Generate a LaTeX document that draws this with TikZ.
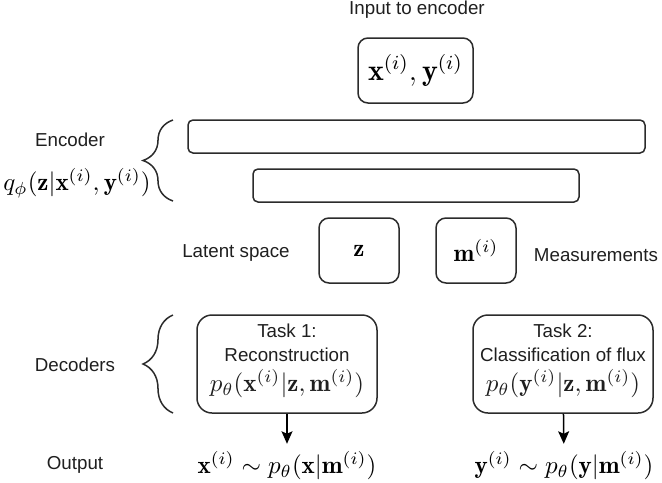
\documentclass[tikz,border=0pt]{standalone}
\usepackage{fontspec}
\usepackage{amsmath}
\usetikzlibrary{arrows.meta, positioning, decorations.pathreplacing}
\newfontfamily\diagfont{Liberation Sans}
\definecolor{vaeLine}{HTML}{2B2B2B}
\definecolor{vaeText}{HTML}{1F1F1F}
% one pixel of the sketch
\newcommand{\pxl}{0.4pt}
\tikzset{
  lbl/.style={font=\diagfont\fontsize{7.5}{9.6}\selectfont, text=vaeText, align=center, inner sep=1pt},
  mathlbl/.style={inner sep=3pt, text=black},
  inbox/.style={rectangle, rounded corners=4pt, draw=vaeLine, line width=0.6pt,
                minimum width=115*\pxl, minimum height=65*\pxl, inner sep=0pt},
  layer/.style={rectangle, rounded corners=2pt, draw=vaeLine, line width=0.6pt,
                minimum height=33*\pxl, inner sep=0pt},
  varbox/.style={rectangle, rounded corners=4pt, draw=vaeLine, line width=0.6pt,
                 minimum width=80*\pxl, minimum height=65*\pxl, inner sep=0pt},
  taskbox/.style={rectangle, rounded corners=6pt, draw=vaeLine, line width=0.6pt,
                  minimum width=180*\pxl, minimum height=98*\pxl, inner sep=0pt,
                  align=center, text=vaeText, font=\diagfont\fontsize{7.5}{9.6}\selectfont},
  bracket/.style={draw=vaeLine, line width=0.6pt, decorate,
                  decoration={brace, amplitude=12pt}},
  arrowK/.style={-{Stealth[length=5pt, width=4.4pt, inset=1pt]}, draw=black, line width=0.6pt},
}
\newcommand{\lowstrut}{\rule[-4.9pt]{0pt}{4.9pt}}

\begin{document}
\begin{tikzpicture}[x=\pxl, y=-\pxl]
  \useasboundingbox (0,0) rectangle (662,482);

  % input
  \node[lbl] (inTitle) at (417,10) {Input to encoder};
  \node[inbox] (xy) at (415.5,70.5) {\large$\mathbf{x}^{(i)},\mathbf{y}^{(i)}$};

  % encoder
  \node[layer, minimum width=457*\pxl] (enc1) at (416.5,136.5) {};
  \node[layer, minimum width=326*\pxl] (enc2) at (416,185.5) {};
  \node[lbl] (encName) at (70,140) {Encoder};
  \node[mathlbl] (encDist) at (77,183) {$q_\phi(\mathbf{z}|\mathbf{x}^{(i)},\mathbf{y}^{(i)})$};
  \coordinate (encTop) at (173,120);
  \coordinate (encBot) at (173,201);
  \draw[bracket] (encBot) -- (encTop);

  % latent space
  \node[lbl] (latName) at (236,253) {Latent space};
  \node[varbox] (z) at (359,250.5) {$\mathbf{z}$};
  \node[varbox] (m) at (476,250.5) {$\mathbf{m}^{(i)}$};
  \node[lbl] (measName) at (596,255) {Measurements};

  % decoders
  \node[lbl] (decName) at (75,365) {Decoders};
  \node[taskbox] (dec1) at (287,364)
    {Task 1:\\Reconstruction\\[2.5pt]{\normalsize$p_\theta(\mathbf{x}^{(i)}|\mathbf{z},\mathbf{m}^{(i)})$}\lowstrut};
  \node[taskbox] (dec2) at (563,364)
    {Task 2:\\Classification of flux\\[2.5pt]{\normalsize$p_\theta(\mathbf{y}^{(i)}|\mathbf{z},\mathbf{m}^{(i)})$}\lowstrut};
  \coordinate (decTop) at (173,315);
  \coordinate (decBot) at (173,413);
  \draw[bracket] (decBot) -- (decTop);

  % output
  \node[lbl] (outName) at (75,465) {Output};
  \node[mathlbl] (out1) at (287,466) {$\mathbf{x}^{(i)}\sim p_\theta(\mathbf{x}|\mathbf{m}^{(i)})$};
  \node[mathlbl] (out2) at (564,466) {$\mathbf{y}^{(i)}\sim p_\theta(\mathbf{y}|\mathbf{m}^{(i)})$};
  \draw[arrowK] (dec1) -- (out1);
  \draw[arrowK] (dec2) -- (out2);
\end{tikzpicture}
\end{document}
